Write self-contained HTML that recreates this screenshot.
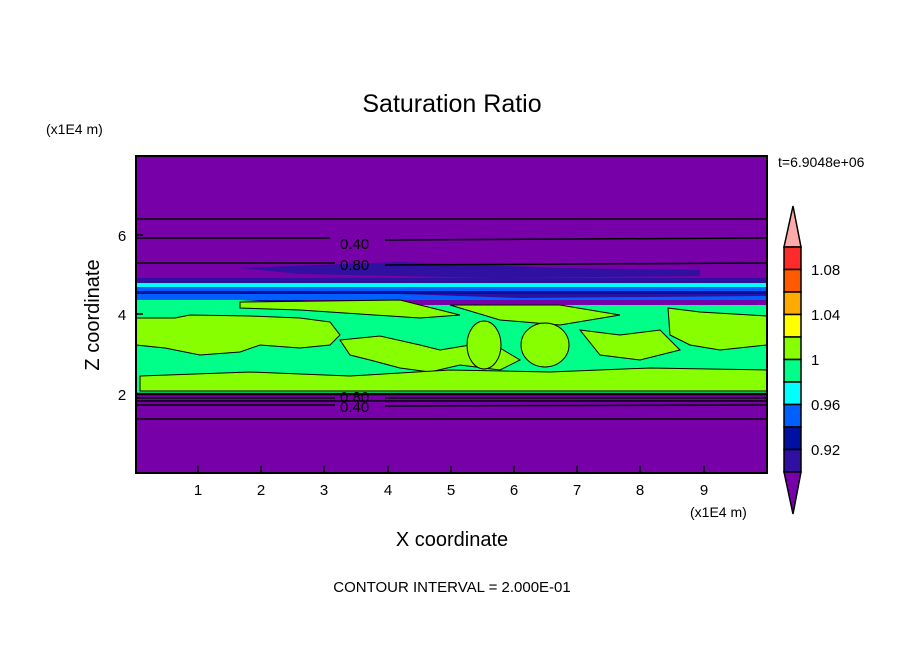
<!DOCTYPE html>
<html><head><style>body{margin:0;background:#fff}svg{display:block}text{font-family:"Liberation Sans",sans-serif}</style></head><body>
<svg width="904" height="654" viewBox="0 0 904 654" xmlns="http://www.w3.org/2000/svg">
<text x="452" y="112" font-size="25" text-anchor="middle">Saturation Ratio</text>
<text x="46" y="134" font-size="14">(x1E4 m)</text>
<text x="778" y="167" font-size="14">t=6.9048e+06</text>
<rect x="136" y="156" width="631" height="317" fill="#7800a8"/>
<!-- dark streaks -->
<polygon points="240,268 400,262 560,268 700,270 700,276 500,278 300,274" fill="#3010a0"/>
<rect x="136" y="278" width="631" height="22" fill="#3010a0"/>
<rect x="136" y="283" width="631" height="4" fill="#00ffff"/>
<rect x="136" y="287" width="631" height="4" fill="#0060ff"/>
<rect x="136" y="291" width="631" height="3" fill="#0010a0"/>
<polygon points="136,294 400,294 520,298 767,296 767,300 136,300" fill="#0060ff"/>
<polygon points="136,300 300,300 420,312 440,320 300,312 136,305" fill="#0010a0"/>
<rect x="136" y="305" width="631" height="89" fill="#00ff88"/>
<polygon points="136,300 240,300 430,310 440,322 136,318" fill="#00ff88"/>
<g fill="#88ff00" stroke="#000" stroke-width="1">
<polygon points="240,302 400,300 460,315 420,318 300,310 240,308"/>
<polygon points="450,305 560,305 620,315 560,325 500,320"/>
<polygon points="136,318 175,318 190,315 250,316 300,318 330,322 340,335 330,345 300,348 260,345 240,352 200,355 165,348 136,345"/>
<polygon points="340,340 380,336 420,345 440,350 470,345 500,348 520,360 500,370 460,365 430,372 400,368 370,360 350,355"/>
<polygon points="140,376 250,372 350,376 450,370 550,372 650,368 767,370 767,391 140,391"/>
<ellipse cx="484" cy="345" rx="17" ry="24"/>
<ellipse cx="545" cy="345" rx="24" ry="22"/>
<polygon points="668,308 700,312 767,316 767,345 720,350 690,345 670,335"/>
<polygon points="580,330 620,335 660,330 680,350 640,360 600,355"/>
</g>
<!-- contour lines -->
<g stroke="#000" stroke-width="1.5" fill="none">
<line x1="136" y1="219" x2="767" y2="219"/>
<polyline points="136,238 330,238"/><polyline points="385,240 767,238"/>
<polyline points="136,263 335,263"/><polyline points="385,265 767,263"/>
<line x1="136" y1="394" x2="767" y2="394" stroke-width="2.5"/>
<polyline points="136,398 335,398"/><polyline points="385,398 767,398"/>
<line x1="136" y1="401" x2="767" y2="401"/>
<polyline points="136,405 335,405"/><polyline points="385,406 767,405"/>
<line x1="136" y1="419" x2="767" y2="419"/>
</g>
<text x="340" y="249" font-size="15">0.40</text>
<text x="340" y="270" font-size="15">0.80</text>
<text x="340" y="402" font-size="15">0.80</text>
<text x="340" y="412" font-size="15">0.40</text>
<rect x="136" y="156" width="631" height="317" fill="none" stroke="#000" stroke-width="2"/>
<g stroke="#000" stroke-width="1.5">
<line x1="198" y1="473" x2="198" y2="466"/><line x1="261" y1="473" x2="261" y2="466"/><line x1="324" y1="473" x2="324" y2="466"/><line x1="388" y1="473" x2="388" y2="466"/><line x1="451" y1="473" x2="451" y2="466"/><line x1="514" y1="473" x2="514" y2="466"/><line x1="577" y1="473" x2="577" y2="466"/><line x1="640" y1="473" x2="640" y2="466"/><line x1="704" y1="473" x2="704" y2="466"/>
<line x1="136" y1="394" x2="143" y2="394"/><line x1="136" y1="314" x2="143" y2="314"/><line x1="136" y1="235" x2="143" y2="235"/>
</g>
<g font-size="15" text-anchor="middle">
<text x="198" y="495">1</text><text x="261" y="495">2</text><text x="324" y="495">3</text><text x="388" y="495">4</text><text x="451" y="495">5</text><text x="514" y="495">6</text><text x="577" y="495">7</text><text x="640" y="495">8</text><text x="704" y="495">9</text>
<text x="122" y="400">2</text><text x="122" y="320">4</text><text x="122" y="241">6</text>
</g>
<text x="690" y="517" font-size="14">(x1E4 m)</text>
<text x="452" y="546" font-size="20" text-anchor="middle">X coordinate</text>
<text transform="translate(99,315) rotate(-90)" font-size="20" text-anchor="middle">Z coordinate</text>
<text x="452" y="592" font-size="15" text-anchor="middle">CONTOUR INTERVAL = 2.000E-01</text>
<!-- colorbar -->
<g stroke="#000" stroke-width="1.5">
<polygon points="793,206 784,247 801,247" fill="#ffaaaa"/>
<rect x="784" y="247" width="17" height="22.5" fill="#ff2a2a"/>
<rect x="784" y="269.5" width="17" height="22.5" fill="#ff5a00"/>
<rect x="784" y="292" width="17" height="22.5" fill="#ffaa00"/>
<rect x="784" y="314.5" width="17" height="22.5" fill="#ffff00"/>
<rect x="784" y="337" width="17" height="22.5" fill="#88ff00"/>
<rect x="784" y="359.5" width="17" height="22.5" fill="#00ff88"/>
<rect x="784" y="382" width="17" height="22.5" fill="#00ffff"/>
<rect x="784" y="404.5" width="17" height="22.5" fill="#0060ff"/>
<rect x="784" y="427" width="17" height="22.5" fill="#0010a0"/>
<rect x="784" y="449.5" width="17" height="22.5" fill="#3010a0"/>
<polygon points="784,472 801,472 793,514" fill="#7800a8"/>
</g>
<g font-size="15">
<text x="811" y="275">1.08</text><text x="811" y="320">1.04</text><text x="811" y="365">1</text><text x="811" y="410">0.96</text><text x="811" y="455">0.92</text>
</g>
</svg>
</body></html>
